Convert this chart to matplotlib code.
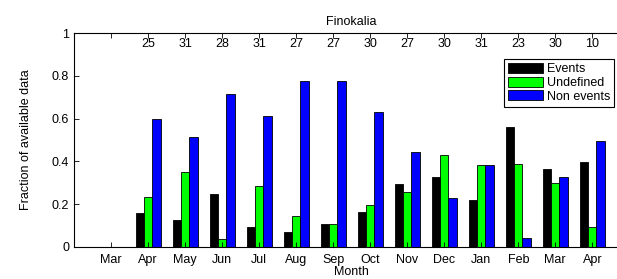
import matplotlib
matplotlib.use("Agg")
import matplotlib.pyplot as plt
import numpy as np

months = ["Mar", "Apr", "May", "Jun", "Jul", "Aug", "Sep", "Oct",
          "Nov", "Dec", "Jan", "Feb", "Mar", "Apr"]
days = ["", "25", "31", "28", "31", "27", "27", "30", "27", "30", "31", "23", "30", "10"]
events = [0, 0.157, 0.126, 0.246, 0.095, 0.072, 0.106, 0.162,
          0.294, 0.329, 0.221, 0.56, 0.364, 0.396]
undefined = [0, 0.235, 0.352, 0.036, 0.286, 0.146, 0.106, 0.196,
             0.256, 0.43, 0.383, 0.388, 0.298, 0.095]
non_events = [0, 0.60, 0.513, 0.715, 0.613, 0.775, 0.775, 0.63,
              0.442, 0.227, 0.383, 0.04, 0.329, 0.495]

plt.rcParams['font.family'] = ['Liberation Sans', 'DejaVu Sans']
plt.rcParams['font.size'] = 9

fig = plt.figure(figsize=(6.17, 2.79), dpi=100)
ax = fig.add_axes([0.12, 0.1147, 0.9, 0.767])

x = np.arange(1, len(months) + 1)
w = 0.225
ax.bar(x - w, events, w, color='black', edgecolor='black', linewidth=0.6, label='Events')
ax.bar(x, undefined, w, color='#00ff00', edgecolor='black', linewidth=0.6, label='Undefined')
ax.bar(x + w, non_events, w, color='#0000ff', edgecolor='black', linewidth=0.6, label='Non events')

# number of days with data, written under the top axis
for xi, d in zip(x, days):
    ax.text(xi, 0.947, d, ha='center', va='center', fontsize=9)

ax.set_xlim(0, 15)
ax.set_ylim(0, 1)
ax.set_xticks(x)
ax.set_xticklabels(months)
ax.set_yticks([0, 0.2, 0.4, 0.6, 0.8, 1])
ax.set_yticklabels(["0", "0.2", "0.4", "0.6", "0.8", "1"])
ax.tick_params(direction='in', length=3.5, top=True, width=0.6)
ax.tick_params(axis='x', pad=5)
for s in ax.spines.values():
    s.set_linewidth(0.8)

ax.set_title("Finokalia", fontsize=9, pad=6)
ax.set_xlabel("Month", labelpad=0)
ax.set_ylabel("Fraction of available data", labelpad=14)

leg = ax.legend(loc='upper left', bbox_to_anchor=(0.775, 0.878), fancybox=False,
                edgecolor='black', framealpha=1, handlelength=2.8, handleheight=0.85,
                handletextpad=0.3, labelspacing=0.12, borderpad=0.3, borderaxespad=0)
leg.get_frame().set_linewidth(0.8)

fig.savefig("out.png", dpi=100)
